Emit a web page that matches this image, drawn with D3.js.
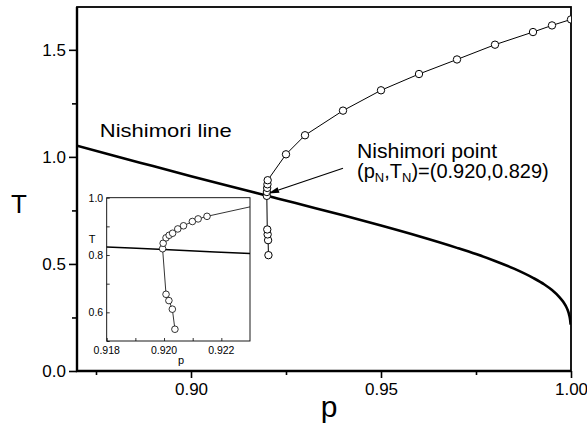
<!DOCTYPE html>
<html>
<head>
<meta charset="utf-8">
<script src="https://cdn.jsdelivr.net/npm/d3@7"></script>
<style>
  html, body { margin: 0; padding: 0; background: #fff; }
  svg { display: block; font-family: "Liberation Sans", Arial, Helvetica, sans-serif; }
</style>
</head>
<body>
<svg id="chart" width="587" height="428"></svg>
<script>
// Phase boundary of the ±J model (main panel)
const boundaryP = [0.92038, 0.92029, 0.92017, 0.92007, 0.91995, 0.91997, 0.92005, 0.92012, 0.92018,
                   0.925, 0.93, 0.94, 0.95, 0.96, 0.97, 0.98, 0.99, 0.995, 1.0];
const boundaryT = [0.541, 0.611, 0.638, 0.661, 0.818, 0.836, 0.855, 0.872, 0.891,
                   1.012, 1.101, 1.216, 1.311, 1.387, 1.455, 1.524, 1.583, 1.614, 1.642];

// Close-up of the boundary near the multicritical point (inset)
const insetP = [0.92038, 0.92029, 0.92017, 0.92007, 0.91995, 0.91997, 0.92007, 0.92018, 0.92030,
                0.92048, 0.92068, 0.92099, 0.92119, 0.92150, 0.925];
const insetT = [0.541, 0.611, 0.641, 0.663, 0.822, 0.841, 0.860, 0.869, 0.876,
                0.891, 0.902, 0.917, 0.926, 0.935, 1.012];

// Nishimori line
const nishP = [0.87, 0.88, 0.89, 0.90, 0.91, 0.918, 0.92, 0.923, 0.93, 0.94, 0.95, 0.96, 0.97, 0.975,
               0.98, 0.985, 0.99, 0.993, 0.995, 0.997, 0.998, 0.999, 0.9995, 0.9998, 0.9999];
const nishT = [1.052, 1.004, 0.957, 0.910, 0.864, 0.828, 0.819, 0.805, 0.773, 0.727, 0.679, 0.629, 0.575, 0.546,
               0.514, 0.478, 0.435, 0.404, 0.378, 0.344, 0.322, 0.290, 0.263, 0.235, 0.217];

// Axis ticks
const xMajor = [0.90, 0.95, 1.00];
const xMinor = [0.875, 0.925, 0.975];
const yMajor = [0.0, 0.5, 1.0, 1.5];
const yMinor = [0.25, 0.75, 1.25];
const insetXMajor = [0.918, 0.920, 0.922];
const insetXMinor = [0.919, 0.921];
const insetYMajor = [0.6, 0.8, 1.0];
const insetYMinor = [0.5, 0.7, 0.9];

// Annotation
const pointLabel = ["Nishimori point", "(0.920,0.829)"];
const arrowFrom = [0.940, 0.947];
const arrowTo = [0.9203, 0.829];

const svg = d3.select("#chart");
const M = { left: 77, right: 571, top: 7, bottom: 371 };

const x = d3.scaleLinear().domain([0.87, 1.0]).range([M.left, M.right]);
const y = d3.scaleLinear().domain([0, 1.7]).range([M.bottom, M.top]);

svg.append("defs").append("clipPath").attr("id", "plotClip")
  .append("rect").attr("x", M.left).attr("y", M.top)
  .attr("width", M.right - M.left).attr("height", M.bottom - M.top);

// ----- main axes -----
const xAxis = d3.axisBottom(x).tickValues(xMajor).tickFormat(d3.format(".2f")).tickSize(7).tickPadding(5);
const gx = svg.append("g").attr("transform", `translate(0,${M.bottom})`).call(xAxis);
gx.select(".domain").remove();
gx.selectAll(".tick line").attr("stroke", "#000").attr("stroke-width", 1.6);
gx.selectAll(".tick text").attr("font-size", 17).attr("fill", "#000")
  .attr("font-family", "Liberation Sans, Arial, sans-serif");
svg.append("g").attr("transform", `translate(0,${M.bottom})`)
  .call(d3.axisBottom(x).tickValues(xMinor).tickFormat("").tickSize(4))
  .call(g => g.select(".domain").remove())
  .selectAll("line").attr("stroke", "#000").attr("stroke-width", 1.6);

const yAxis = d3.axisLeft(y).tickValues(yMajor).tickFormat(d3.format(".1f")).tickSize(8).tickPadding(3);
const gy = svg.append("g").attr("transform", `translate(${M.left},0)`).call(yAxis);
gy.select(".domain").remove();
gy.selectAll(".tick line").attr("stroke", "#000").attr("stroke-width", 1.6);
gy.selectAll(".tick text").attr("font-size", 17).attr("fill", "#000")
  .attr("font-family", "Liberation Sans, Arial, sans-serif");
svg.append("g").attr("transform", `translate(${M.left},0)`)
  .call(d3.axisLeft(y).tickValues(yMinor).tickFormat("").tickSize(5))
  .call(g => g.select(".domain").remove())
  .selectAll("line").attr("stroke", "#000").attr("stroke-width", 1.6);

// frame: heavier on the axis sides
svg.append("rect").attr("x", M.left).attr("y", M.top)
  .attr("width", M.right - M.left).attr("height", M.bottom - M.top)
  .attr("fill", "none").attr("stroke", "#000").attr("stroke-width", 1.8);
svg.append("path")
  .attr("d", `M${M.left},${M.top}V${M.bottom}H${M.right}`)
  .attr("fill", "none").attr("stroke", "#000").attr("stroke-width", 2.4);

// axis titles
svg.append("text").attr("x", 19).attr("y", 213).attr("text-anchor", "middle")
  .attr("font-size", 26).text("T");
svg.append("text").attr("x", 329).attr("y", 417).attr("text-anchor", "middle")
  .attr("font-size", 30).text("p");

// ----- main data -----
const plot = svg.append("g").attr("clip-path", "url(#plotClip)");

plot.append("path")
  .datum(nishP.map((p, i) => [p, nishT[i]]))
  .attr("fill", "none").attr("stroke", "#000").attr("stroke-width", 2.6)
  .attr("d", d3.line().x(d => x(d[0])).y(d => y(d[1])).curve(d3.curveMonotoneX));

const bData = boundaryP.map((p, i) => [p, boundaryT[i]]);
plot.append("path").datum(bData)
  .attr("fill", "none").attr("stroke", "#000").attr("stroke-width", 1)
  .attr("d", d3.line().x(d => x(d[0])).y(d => y(d[1])));
plot.selectAll("circle.b").data(bData).join("circle").attr("class", "b")
  .attr("cx", d => x(d[0])).attr("cy", d => y(d[1])).attr("r", 3.7)
  .attr("fill", "#fff").attr("stroke", "#000").attr("stroke-width", 1);

// labels
svg.append("text").attr("x", x(0.876)).attr("y", 137).attr("font-size", 19)
  .attr("textLength", 132).attr("lengthAdjust", "spacingAndGlyphs").text("Nishimori line");

svg.append("text").attr("x", x(0.9437)).attr("y", 158).attr("font-size", 20)
  .attr("textLength", 140).attr("lengthAdjust", "spacingAndGlyphs").text(pointLabel[0]);
const t2 = svg.append("text").attr("x", x(0.9437)).attr("y", 178).attr("font-size", 20);
t2.append("tspan").text("(p");
t2.append("tspan").attr("font-size", 13).attr("dy", 4).text("N");
t2.append("tspan").attr("dy", -4).text(",T");
t2.append("tspan").attr("font-size", 13).attr("dy", 4).text("N");
t2.append("tspan").attr("dy", -4).text(")=" + pointLabel[1]);

// arrow to the Nishimori point
{
  const x0 = x(arrowFrom[0]), y0 = y(arrowFrom[1]);
  const x1 = x(arrowTo[0]), y1 = y(arrowTo[1]);
  const ang = Math.atan2(y1 - y0, x1 - x0);
  const L = 11, W = 3;
  const bx = x1 - L * Math.cos(ang), by = y1 - L * Math.sin(ang);
  svg.append("line").attr("x1", x0).attr("y1", y0).attr("x2", bx).attr("y2", by)
    .attr("stroke", "#000").attr("stroke-width", 1.2);
  svg.append("path")
    .attr("d", `M${x1},${y1} L${bx + W * Math.sin(ang)},${by - W * Math.cos(ang)} L${bx - W * Math.sin(ang)},${by + W * Math.cos(ang)} Z`)
    .attr("fill", "#000");
}

// ----- inset -----
const I = { left: 106.7, right: 250, top: 197.7, bottom: 341 };
const xi = d3.scaleLinear().domain([0.918, 0.923]).range([I.left, I.right]);
const yi = d3.scaleLinear().domain([0.5, 1.0]).range([I.bottom, I.top]);

svg.append("rect").attr("x", I.left).attr("y", I.top)
  .attr("width", I.right - I.left).attr("height", I.bottom - I.top)
  .attr("fill", "#fff");

svg.select("defs").append("clipPath").attr("id", "insetClip")
  .append("rect").attr("x", I.left).attr("y", I.top)
  .attr("width", I.right - I.left).attr("height", I.bottom - I.top);

const inset = svg.append("g").attr("clip-path", "url(#insetClip)");
inset.append("path")
  .datum(nishP.map((p, i) => [p, nishT[i]]))
  .attr("fill", "none").attr("stroke", "#000").attr("stroke-width", 1.5)
  .attr("d", d3.line().x(d => xi(d[0])).y(d => yi(d[1])).curve(d3.curveMonotoneX));
const iData = insetP.map((p, i) => [p, insetT[i]]);
inset.append("path").datum(iData)
  .attr("fill", "none").attr("stroke", "#000").attr("stroke-width", 0.8)
  .attr("d", d3.line().x(d => xi(d[0])).y(d => yi(d[1])));
inset.selectAll("circle").data(iData).join("circle")
  .attr("cx", d => xi(d[0])).attr("cy", d => yi(d[1])).attr("r", 3.3)
  .attr("fill", "#fff").attr("stroke", "#000").attr("stroke-width", 0.8);

// inset axes (ticks pointing inward)
const gxi = svg.append("g").attr("transform", `translate(0,${I.bottom})`)
  .call(d3.axisTop(xi).tickValues(insetXMajor.concat(insetXMinor)).tickFormat("").tickSize(3));
gxi.select(".domain").remove();
gxi.selectAll("line").attr("stroke", "#000").attr("stroke-width", 0.8);
svg.append("g").selectAll("text").data(insetXMajor).join("text")
  .attr("x", d => xi(d)).attr("y", I.bottom + 12.5).attr("text-anchor", "middle")
  .attr("font-size", 10.5).text(d3.format(".3f"));

const gyi = svg.append("g").attr("transform", `translate(${I.left},0)`)
  .call(d3.axisRight(yi).tickValues(insetYMajor.concat(insetYMinor)).tickFormat("").tickSize(3));
gyi.select(".domain").remove();
gyi.selectAll("line").attr("stroke", "#000").attr("stroke-width", 0.8);
svg.append("g").selectAll("text").data(insetYMajor).join("text")
  .attr("x", I.left - 3.5).attr("y", d => yi(d) + 3.8).attr("text-anchor", "end")
  .attr("font-size", 10.5).text(d3.format(".1f"));

svg.append("rect").attr("x", I.left).attr("y", I.top)
  .attr("width", I.right - I.left).attr("height", I.bottom - I.top)
  .attr("fill", "none").attr("stroke", "#000").attr("stroke-width", 0.9);

svg.append("text").attr("x", 92).attr("y", 243).attr("text-anchor", "middle")
  .attr("font-size", 11).text("T");
svg.append("text").attr("x", 181).attr("y", 364).attr("text-anchor", "middle")
  .attr("font-size", 11).text("p");
</script>
</body>
</html>
